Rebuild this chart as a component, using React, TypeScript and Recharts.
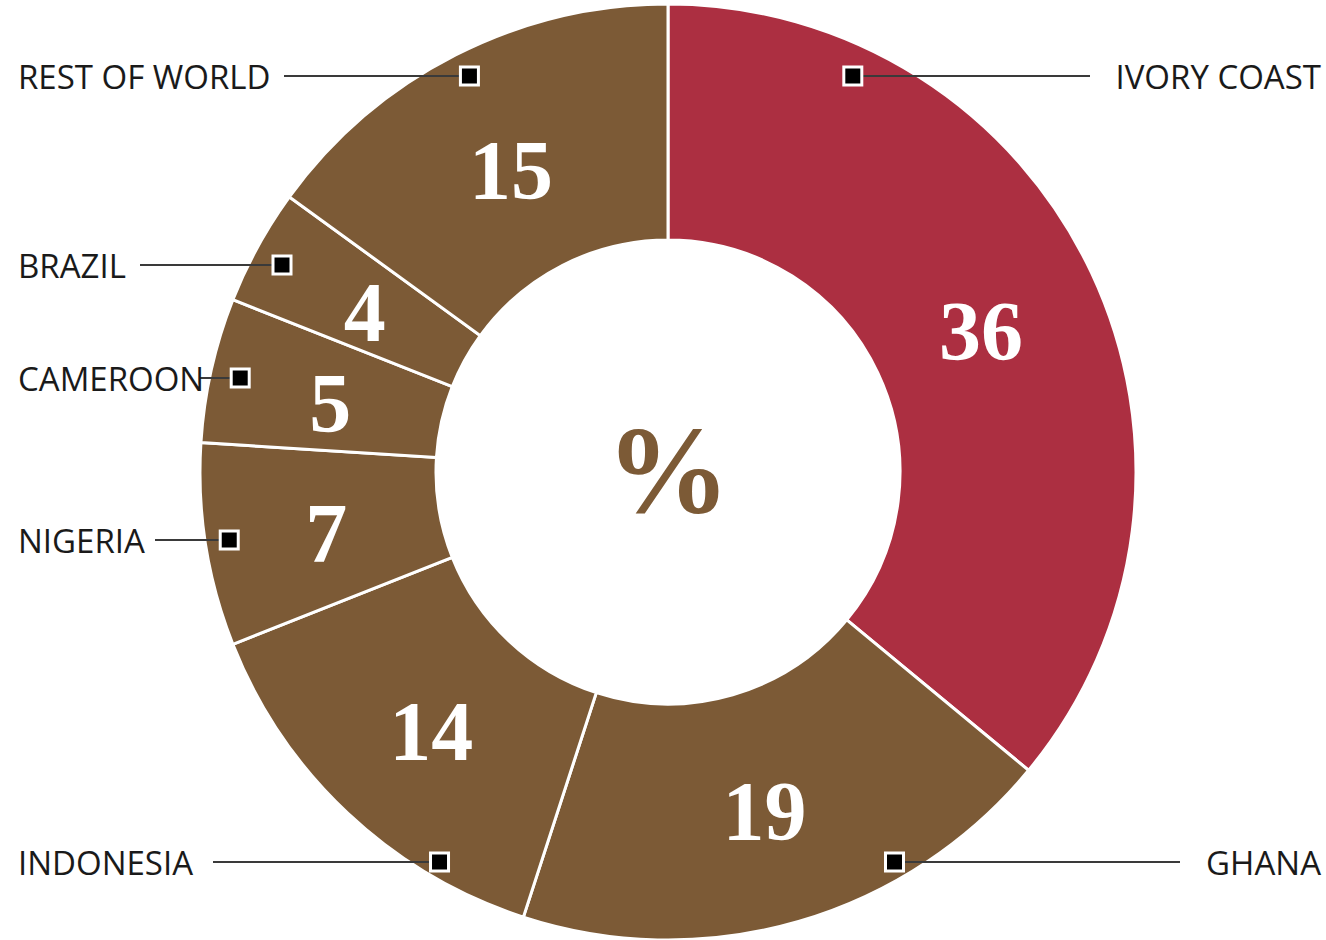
import React from "react";
import { PieChart, Pie, Cell } from "recharts";

const categories = ["IVORY COAST", "GHANA", "INDONESIA", "NIGERIA", "CAMEROON", "BRAZIL", "REST OF WORLD"];
const values = [36, 19, 14, 7, 5, 4, 15];
const sliceColors = ["#AC2F41", "#7C5A36", "#7C5A36", "#7C5A36", "#7C5A36", "#7C5A36", "#7C5A36"];

// annotation layout (callout rows)
const calloutY = [76, 862, 862, 540, 378, 265, 76];
const markerRadius = [437, 451, 452, 444, 438, 438, 443];
const leaderStartX = [1090, 1180, 213, 155, 200, 140, 284];

const data = categories.map((name, i) => ({ name, value: values[i] }));

const RAD = Math.PI / 180;

const renderLabel = (props: any) => {
  const { cx, cy, midAngle, innerRadius, outerRadius, index, value } = props;
  const r = (innerRadius + outerRadius) / 2 - 4;
  const nx = cx + r * Math.cos(-midAngle * RAD);
  const ny = cy + r * Math.sin(-midAngle * RAD);
  const ly = calloutY[index];
  const mr = markerRadius[index];
  const dy = ly - cy;
  const dxAbs = Math.sqrt(Math.max(mr * mr - dy * dy, 0));
  const right = Math.cos(-midAngle * RAD) > 0 && index < 2;
  const mx = right ? cx + dxAbs : cx - dxAbs;
  const lx = leaderStartX[index];
  return (
    <g key={`lbl-${index}`}>
      <text
        x={nx}
        y={ny + 7}
        fill="#ffffff"
        textAnchor="middle"
        dominantBaseline="central"
        fontFamily="'Liberation Serif', serif"
        fontWeight="bold"
        fontSize={84}
      >
        {value}
      </text>
      <line x1={lx} y1={ly} x2={mx} y2={ly} stroke="#3a3a3a" strokeWidth={2} />
      <rect x={mx - 9} y={ly - 9} width={18} height={18} fill="#000000" stroke="#ffffff" strokeWidth={3} />
      <text
        x={right ? 1321 : 18}
        y={ly}
        fill="#1a1a1a"
        textAnchor={right ? "end" : "start"}
        dominantBaseline="central"
        fontFamily="'Open Sans', sans-serif"
        fontSize={33}
      >
        {categories[index]}
      </text>
    </g>
  );
};

export default function App() {
  return (
    <div style={{ position: "absolute", left: 0, top: 0, width: 1326, height: 940, background: "#ffffff" }}>
      <PieChart width={1326} height={940} margin={{ top: 0, right: 0, bottom: 0, left: 0 }}>
        <Pie
          data={data}
          dataKey="value"
          nameKey="name"
          cx={668}
          cy={472}
          innerRadius={232}
          outerRadius={468}
          startAngle={90}
          endAngle={-270}
          stroke="#ffffff"
          strokeWidth={3}
          label={renderLabel}
          labelLine={false}
          isAnimationActive={false}
        >
          {data.map((d, i) => (
            <Cell key={d.name} fill={sliceColors[i]} />
          ))}
        </Pie>
        <text
          x={668}
          y={470}
          textAnchor="middle"
          dominantBaseline="central"
          fill="#7C5A36"
          fontFamily="'Liberation Serif', serif"
          fontWeight="bold"
          fontSize={124}
        >
          %
        </text>
      </PieChart>
    </div>
  );
}
